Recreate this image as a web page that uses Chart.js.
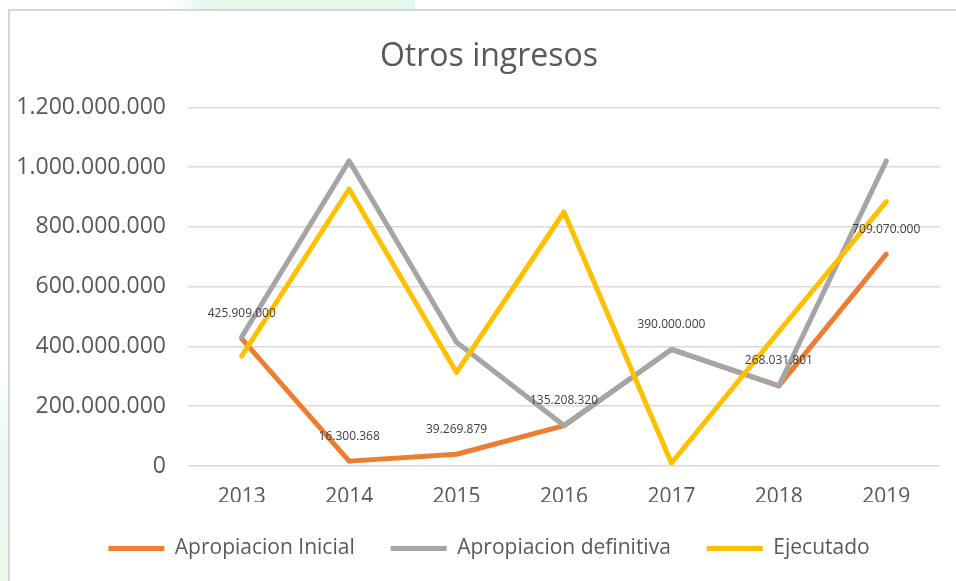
<!DOCTYPE html>
<html lang="es">
<head>
  <meta charset="UTF-8" />
  <title>Otros ingresos</title>
  <script src="https://cdn.jsdelivr.net/npm/chart.js"></script>
  <style>
    body {
      margin: 0;
      width: 956px;
      height: 581px;
      overflow: hidden;
      background: #fff;
      position: relative;
      font-family: "Open Sans", sans-serif;
    }
    .bg-top {
      position: absolute;
      left: 165px;
      top: 0;
      width: 250px;
      height: 12px;
      background: linear-gradient(to right, #ffffff, #e3f7ec 20%, #e3f7ec);
    }
    .bg-left {
      position: absolute;
      left: 0;
      top: 360px;
      width: 10px;
      height: 221px;
      background: linear-gradient(to bottom, #ffffff, #edf9f2 40%, #eaf8f0);
    }
    .box {
      position: absolute;
      left: 8px;
      top: 9px;
      width: 990px;
      height: 600px;
      border: 2px solid #d6d6d6;
      background: #fff;
    }
    .wrap {
      position: absolute;
      left: 10px;
      top: 11px;
      width: 958px;
      height: 570px;
    }
  </style>
</head>
<body>
  <div class="bg-top"></div>
  <div class="bg-left"></div>
  <div class="box"></div>
  <div class="wrap"><canvas id="chart"></canvas></div>

  <script>
    // data
    const years = ["2013", "2014", "2015", "2016", "2017", "2018", "2019"];
    const apropiacionInicial = [425909000, 16300368, 39269879, 135208320, 390000000, 268031801, 709070000];
    const apropiacionDefinitiva = [432000000, 1021000000, 414000000, 135208320, 390000000, 268031801, 1021000000];
    const ejecutado = [368000000, 927000000, 313000000, 850000000, 10000000, 450000000, 885000000];

    function fmt(v) {
      return String(Math.round(v)).replace(/\B(?=(\d{3})+(?!\d))/g, ".");
    }

    // value labels above the "Apropiacion Inicial" points
    const valueLabels = {
      id: "valueLabels",
      afterDatasetsDraw(chart) {
        const meta = chart.getDatasetMeta(0);
        const ctx = chart.ctx;
        ctx.save();
        ctx.font = "12px 'Open Sans'";
        ctx.fillStyle = "#404040";
        ctx.textAlign = "center";
        ctx.textBaseline = "middle";
        meta.data.forEach((pt, i) => {
          ctx.fillText(fmt(apropiacionInicial[i]), pt.x, pt.y - 25);
        });
        ctx.restore();
      }
    };

    const lineStyle = {
      borderWidth: 5,
      pointRadius: 0,
      pointHoverRadius: 0,
      tension: 0,
      borderCapStyle: "round",
      borderJoinStyle: "round",
      fill: false
    };

    function draw() {
      new Chart(document.getElementById("chart"), {
        type: "line",
        data: {
          labels: years,
          datasets: [
            { label: "Apropiacion Inicial", data: apropiacionInicial, borderColor: "#ED7D31", backgroundColor: "#ED7D31", order: 2, ...lineStyle },
            { label: "Apropiacion definitiva", data: apropiacionDefinitiva, borderColor: "#A5A5A5", backgroundColor: "#A5A5A5", order: 1, ...lineStyle },
            { label: "Ejecutado", data: ejecutado, borderColor: "#FFC000", backgroundColor: "#FFC000", order: 0, ...lineStyle }
          ]
        },
        options: {
          responsive: true,
          maintainAspectRatio: false,
          animation: false,
          layout: { padding: { left: 0, right: 0, top: 0, bottom: 12 } },
          plugins: {
            title: {
              display: true,
              text: "Otros ingresos",
              color: "#595959",
              font: { family: "'Open Sans'", size: 32, weight: "normal" },
              padding: { top: 27, bottom: 31 }
            },
            legend: {
              position: "bottom",
              labels: {
                usePointStyle: true,
                pointStyle: "line",
                pointStyleWidth: 56,
                boxHeight: 5,
                color: "#595959",
                font: { family: "'Open Sans'", size: 21 },
                padding: 36,
                sort: (a, b) => a.datasetIndex - b.datasetIndex
              }
            },
            tooltip: { enabled: false }
          },
          scales: {
            x: {
              offset: true,
              grid: { display: false, drawTicks: false },
              border: { display: false },
              ticks: { color: "#595959", font: { family: "'Open Sans'", size: 21 }, padding: 18 },
              afterFit: s => { s.height = 36; }
            },
            y: {
              min: 0,
              max: 1200000000,
              grid: { color: "#d9d9d9", lineWidth: 1.5, drawTicks: false },
              border: { display: false },
              ticks: {
                stepSize: 200000000,
                color: "#595959",
                font: { family: "'Open Sans'", size: 23 },
                padding: 22,
                callback: v => fmt(v)
              },
              afterFit: s => { s.width = 178; }
            },
            // empty right-hand strip so the title and legend stay centred on the whole box
            gap: {
              type: "linear",
              position: "right",
              grid: { display: false, drawTicks: false },
              border: { display: false },
              ticks: { display: false },
              afterFit: s => { s.width = 28; }
            }
          }
        },
        plugins: [valueLabels]
      });
    }

    Promise.all([
      document.fonts.load("21px 'Open Sans'"),
      document.fonts.load("32px 'Open Sans'")
    ]).then(draw, draw);
  </script>
</body>
</html>
